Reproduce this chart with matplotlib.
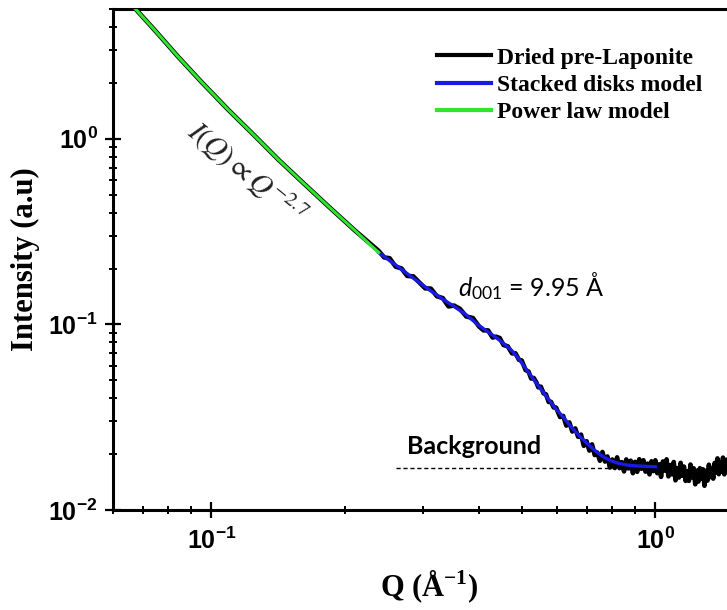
import matplotlib
matplotlib.use("Agg")
import matplotlib.pyplot as plt
from matplotlib.ticker import LogLocator, NullFormatter

# ---- measured SAXS curve: dried pre-Laponite ----
q_data = [0.066, 0.0684, 0.075, 0.0842, 0.095, 0.1092, 0.125, 0.1416, 0.16, 0.1837,
          0.21, 0.238, 0.245, 0.252, 0.26, 0.268, 0.276, 0.285, 0.294, 0.303, 0.312,
          0.322, 0.332, 0.342, 0.352, 0.363, 0.375, 0.388, 0.4007, 0.41, 0.42, 0.43,
          0.4375, 0.446, 0.455, 0.465, 0.4755, 0.484, 0.493, 0.50, 0.51, 0.518, 0.525,
          0.532, 0.5387, 0.545, 0.552, 0.56, 0.567, 0.575, 0.582, 0.59, 0.5977,
          0.61, 0.62, 0.63, 0.64, 0.65, 0.66, 0.67, 0.68, 0.69, 0.70,
          0.71, 0.72, 0.73, 0.74, 0.75, 0.76, 0.77, 0.78, 0.79, 0.80,
          0.81, 0.82, 0.83, 0.84, 0.85, 0.86, 0.87, 0.88, 0.89, 0.90,
          0.91, 0.92, 0.93, 0.94, 0.95, 0.96, 0.97, 0.98, 0.99, 1.00,
          1.01, 1.02, 1.03, 1.04, 1.05, 1.06, 1.07, 1.08, 1.09, 1.10,
          1.11, 1.12, 1.13, 1.14, 1.15, 1.16, 1.17, 1.18, 1.19, 1.20,
          1.21, 1.22, 1.23, 1.24, 1.25, 1.26, 1.27, 1.28, 1.29, 1.30,
          1.31, 1.32, 1.33, 1.34, 1.35, 1.36, 1.37, 1.38, 1.39, 1.40,
          1.41, 1.42, 1.43, 1.44, 1.45, 1.46, 1.47, 1.48, 1.49, 1.50]
i_data = [5.3, 4.82, 3.78, 2.76, 2.02, 1.43, 1.04, 0.771, 0.586, 0.431,
          0.322, 0.2489, 0.2295, 0.2272, 0.2047, 0.2002, 0.1825, 0.1813, 0.1683, 0.1564, 0.1559,
          0.1418, 0.1385, 0.1250, 0.1263, 0.1212, 0.1103, 0.1083, 0.0975, 0.0929, 0.0928, 0.0849,
          0.0859, 0.0845, 0.0774, 0.0762, 0.0698, 0.0699, 0.0644, 0.0639, 0.0568, 0.0557, 0.0511,
          0.0515, 0.0490, 0.0458, 0.0462, 0.0425, 0.0420, 0.0382, 0.0383, 0.0357, 0.0356,
          0.03168, 0.03213, 0.02850, 0.02964, 0.02648, 0.02751, 0.02479, 0.02548, 0.02218, 0.02348,
          0.02090, 0.02258, 0.01978, 0.02040, 0.01842, 0.02054, 0.01824, 0.01943, 0.01693, 0.01872,
          0.01683, 0.01922, 0.01682, 0.01813, 0.01615, 0.01873, 0.01675, 0.01844, 0.01579, 0.01817,
          0.01606, 0.01878, 0.01668, 0.01854, 0.01610, 0.01778, 0.01556, 0.01830, 0.01620, 0.01853,
          0.01579, 0.01764, 0.01508, 0.01827, 0.01630, 0.01875, 0.01518, 0.01745, 0.01557, 0.01815,
          0.01445, 0.01683, 0.01496, 0.01796, 0.01530, 0.01714, 0.01435, 0.01618, 0.01436, 0.01758,
          0.01500, 0.01678, 0.01376, 0.01630, 0.01423, 0.01680, 0.01477, 0.01657, 0.01351, 0.01628,
          0.01440, 0.01754, 0.01504, 0.01669, 0.01476, 0.01793, 0.01594, 0.01898, 0.01559, 0.01799,
          0.01614, 0.01916, 0.01556, 0.01859, 0.01690, 0.01918, 0.01619, 0.01883, 0.01584, 0.01838]

# ---- stacked disks model fit ----
q_disks = [0.238, 0.25, 0.262, 0.275, 0.29, 0.309, 0.33, 0.352, 0.375, 0.4007, 0.42,
           0.4375, 0.455, 0.4755, 0.493, 0.51, 0.525, 0.5387, 0.552, 0.567, 0.582, 0.5977,
           0.62, 0.64, 0.66, 0.68, 0.70, 0.72, 0.74, 0.76, 0.78, 0.80, 0.83, 0.86,
           0.90, 0.95, 1.0]
i_disks = [0.244, 0.2237, 0.206, 0.189, 0.172, 0.154, 0.138, 0.125, 0.1125, 0.0985, 0.0910,
           0.0850, 0.0790, 0.0720, 0.0650, 0.0580, 0.0527, 0.0485, 0.0449, 0.0412, 0.0379, 0.0349,
           0.0317, 0.0288, 0.0265, 0.0246, 0.0230, 0.0216, 0.0204, 0.0195, 0.0188, 0.0183,
           0.0178, 0.0175, 0.0173, 0.0172, 0.0171]

# ---- power law model fit ----
q_power = [0.066, 0.0684, 0.075, 0.0842, 0.095, 0.1092, 0.125, 0.1416, 0.16, 0.1837,
           0.21, 0.238]
i_power = [5.3, 4.82, 3.78, 2.76, 2.02, 1.43, 1.04, 0.771, 0.586, 0.431, 0.322, 0.244]

# ---- background level ----
q_background = [0.26, 0.80]
i_background = [0.0168, 0.0168]

plt.rcParams["mathtext.fontset"] = "custom"
plt.rcParams["mathtext.rm"] = "Lato"
plt.rcParams["mathtext.it"] = "Lato:italic"

fig = plt.figure(figsize=(7.27, 6.10), dpi=100)
ax = fig.add_axes([0.1554, 0.1639, 0.8707, 0.8213])
ax.set_xscale("log")
ax.set_yscale("log")
ax.set_xlim(0.06, 1.6)
ax.set_ylim(0.01, 5)

ax.plot(q_data, i_data, color="black", lw=3.3, label="Dried pre-Laponite", zorder=2)
ax.plot(q_disks, i_disks, color="#1a1ae6", lw=2.4, label="Stacked disks model", zorder=3)
ax.plot(q_power, i_power, color="#2ee62e", lw=2.2, label="Power law model", zorder=3)
ax.plot(q_background, i_background, color="black", lw=1.0, ls=(0, (3, 2)), zorder=1)

# annotations
ax.text(0.2754, 0.020, "Background", family="Lato", weight="bold", fontsize=18,
        ha="left", va="baseline")
ax.text(0.359, 0.1415, r"$d_{\mathit{001}}$ = 9.95 Å", family="Lato", fontsize=18,
        ha="left", va="baseline")
ax.text(0.12, 0.656, r"$I(Q) \propto Q^{-2.7}$", math_fontfamily="stix", fontsize=21,
        rotation=-39.5, rotation_mode="anchor", ha="center", va="center", color="#222222")

# spines and ticks
for side in ["left", "bottom", "top", "right"]:
    ax.spines[side].set_linewidth(2.2)
ax.tick_params(which="major", direction="inout", length=12, width=1.6,
               top=False, right=False, labelsize=18, pad=5)
ax.tick_params(which="minor", direction="inout", length=6, width=1.4,
               top=False, right=False)
ax.yaxis.set_minor_locator(LogLocator(base=10, subs=range(2, 10), numticks=20))
ax.xaxis.set_minor_locator(LogLocator(base=10, subs=range(2, 10), numticks=20))
ax.xaxis.set_minor_formatter(NullFormatter())
ax.yaxis.set_minor_formatter(NullFormatter())
for lab in ax.get_xticklabels() + ax.get_yticklabels():
    lab.set_family("Liberation Sans")
    lab.set_weight("bold")
ax.tick_params(axis="x", which="major", pad=7)

ax.set_xlabel(r"Q (Å$^{\mathdefault{-1}}$)", family="Liberation Serif", weight="bold",
              fontsize=22, labelpad=10)
ax.set_ylabel("Intensity (a.u)", family="Liberation Serif", weight="bold",
              fontsize=22, labelpad=6)

leg = ax.legend(loc="upper left", bbox_to_anchor=(437 / 727, 1 - 47 / 610),
                bbox_transform=fig.transFigure, frameon=False, borderpad=0,
                borderaxespad=0, handlelength=2.3, handletextpad=0.25,
                labelspacing=0.25, prop={"family": "Liberation Serif", "weight": "bold",
                                         "size": 17})
for line in leg.get_lines():
    line.set_linewidth(3.0)

fig.savefig("out.png", dpi=100)
